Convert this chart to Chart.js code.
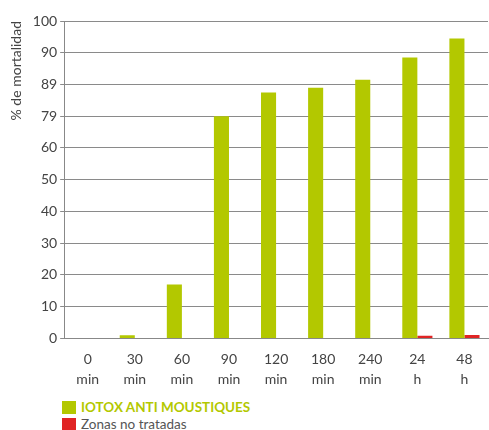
<!DOCTYPE html>
<html>
<head>
<meta charset="utf-8">
<script src="https://cdn.jsdelivr.net/npm/chart.js@4/dist/chart.umd.min.js"></script>
<style>
  body { margin: 0; background: #fff; font-family: Lato, sans-serif; }
  #wrap { position: relative; width: 489px; height: 430px; }
  #legend { position: absolute; left: 62px; top: 399px; font-size: 13.5px; line-height: 17px; }
  .item { display: flex; align-items: center; height: 17px; }
  .box { width: 14px; height: 13px; margin-right: 5px; }
</style>
</head>
<body>
<div id="wrap">
  <canvas id="bar-graph" width="489" height="393"></canvas>
  <div id="legend">
    <div class="item"><span class="box" style="background:#b3c800"></span><span style="color:#b3c800;font-weight:bold">IOTOX ANTI MOUSTIQUES</span></div>
    <div class="item"><span class="box" style="background:#e02424"></span><span style="color:#555">Zonas no tratadas</span></div>
  </div>
</div>
<script>
const categories = [['0', 'min'], ['30', 'min'], ['60', 'min'], ['90', 'min'], ['120', 'min'], ['180', 'min'], ['240', 'min'], ['24', 'h'], ['48', 'h']];
const iotox = [0, 1, 17, 70, 77.5, 79, 81.5, 88.5, 94.5];
const untreated = [0, 0, 0, 0, 0, 0, 0, 0.8, 1.1];
// tick labels as printed in the original (70/80 show as 79/89)
const yTickLabels = ['0', '10', '20', '30', '40', '50', '60', '79', '89', '90', '100'];

const canvas = document.getElementById('bar-graph');
const bar_graph = new Chart(canvas, {
    type: 'bar',
    data: {
        labels: categories,
        datasets: [
            {
                label: 'IOTOX ANTI MOUSTIQUES',
                data: iotox,
                backgroundColor: '#b3c800',
            },
            {
                label: 'Zonas no tratadas',
                data: untreated,
                backgroundColor: '#e02424',
            },
        ]
    },
    options: {
        responsive: false,
        animation: false,
        layout: { padding: { top: 21, right: 1, left: 4 } },
        plugins: { legend: { display: false }, tooltip: { enabled: false } },
        datasets: { bar: { categoryPercentage: 0.64, barPercentage: 1 } },
        scales: {
            x: {
                grid: { display: false },
                border: { color: '#888' },
                ticks: { color: '#444', font: { family: 'Lato', size: 14, lineHeight: 1.45 }, maxRotation: 0, padding: 3 },
            },
            y: {
                min: 0,
                max: 100,
                ticks: {
                    stepSize: 10,
                    color: '#444',
                    font: { family: 'Lato', size: 14 },
                    callback: (v, i) => yTickLabels[i],
                },
                grid: { color: '#8a8a8a', tickLength: 4 },
                border: { color: '#888' },
                title: {
                    display: true,
                    text: '% de mortalidad',
                    align: 'end',
                    color: '#444',
                    font: { family: 'Lato', size: 14 },
                    padding: { bottom: 5 },
                },
            }
        }
    }
});
</script>
</body>
</html>
